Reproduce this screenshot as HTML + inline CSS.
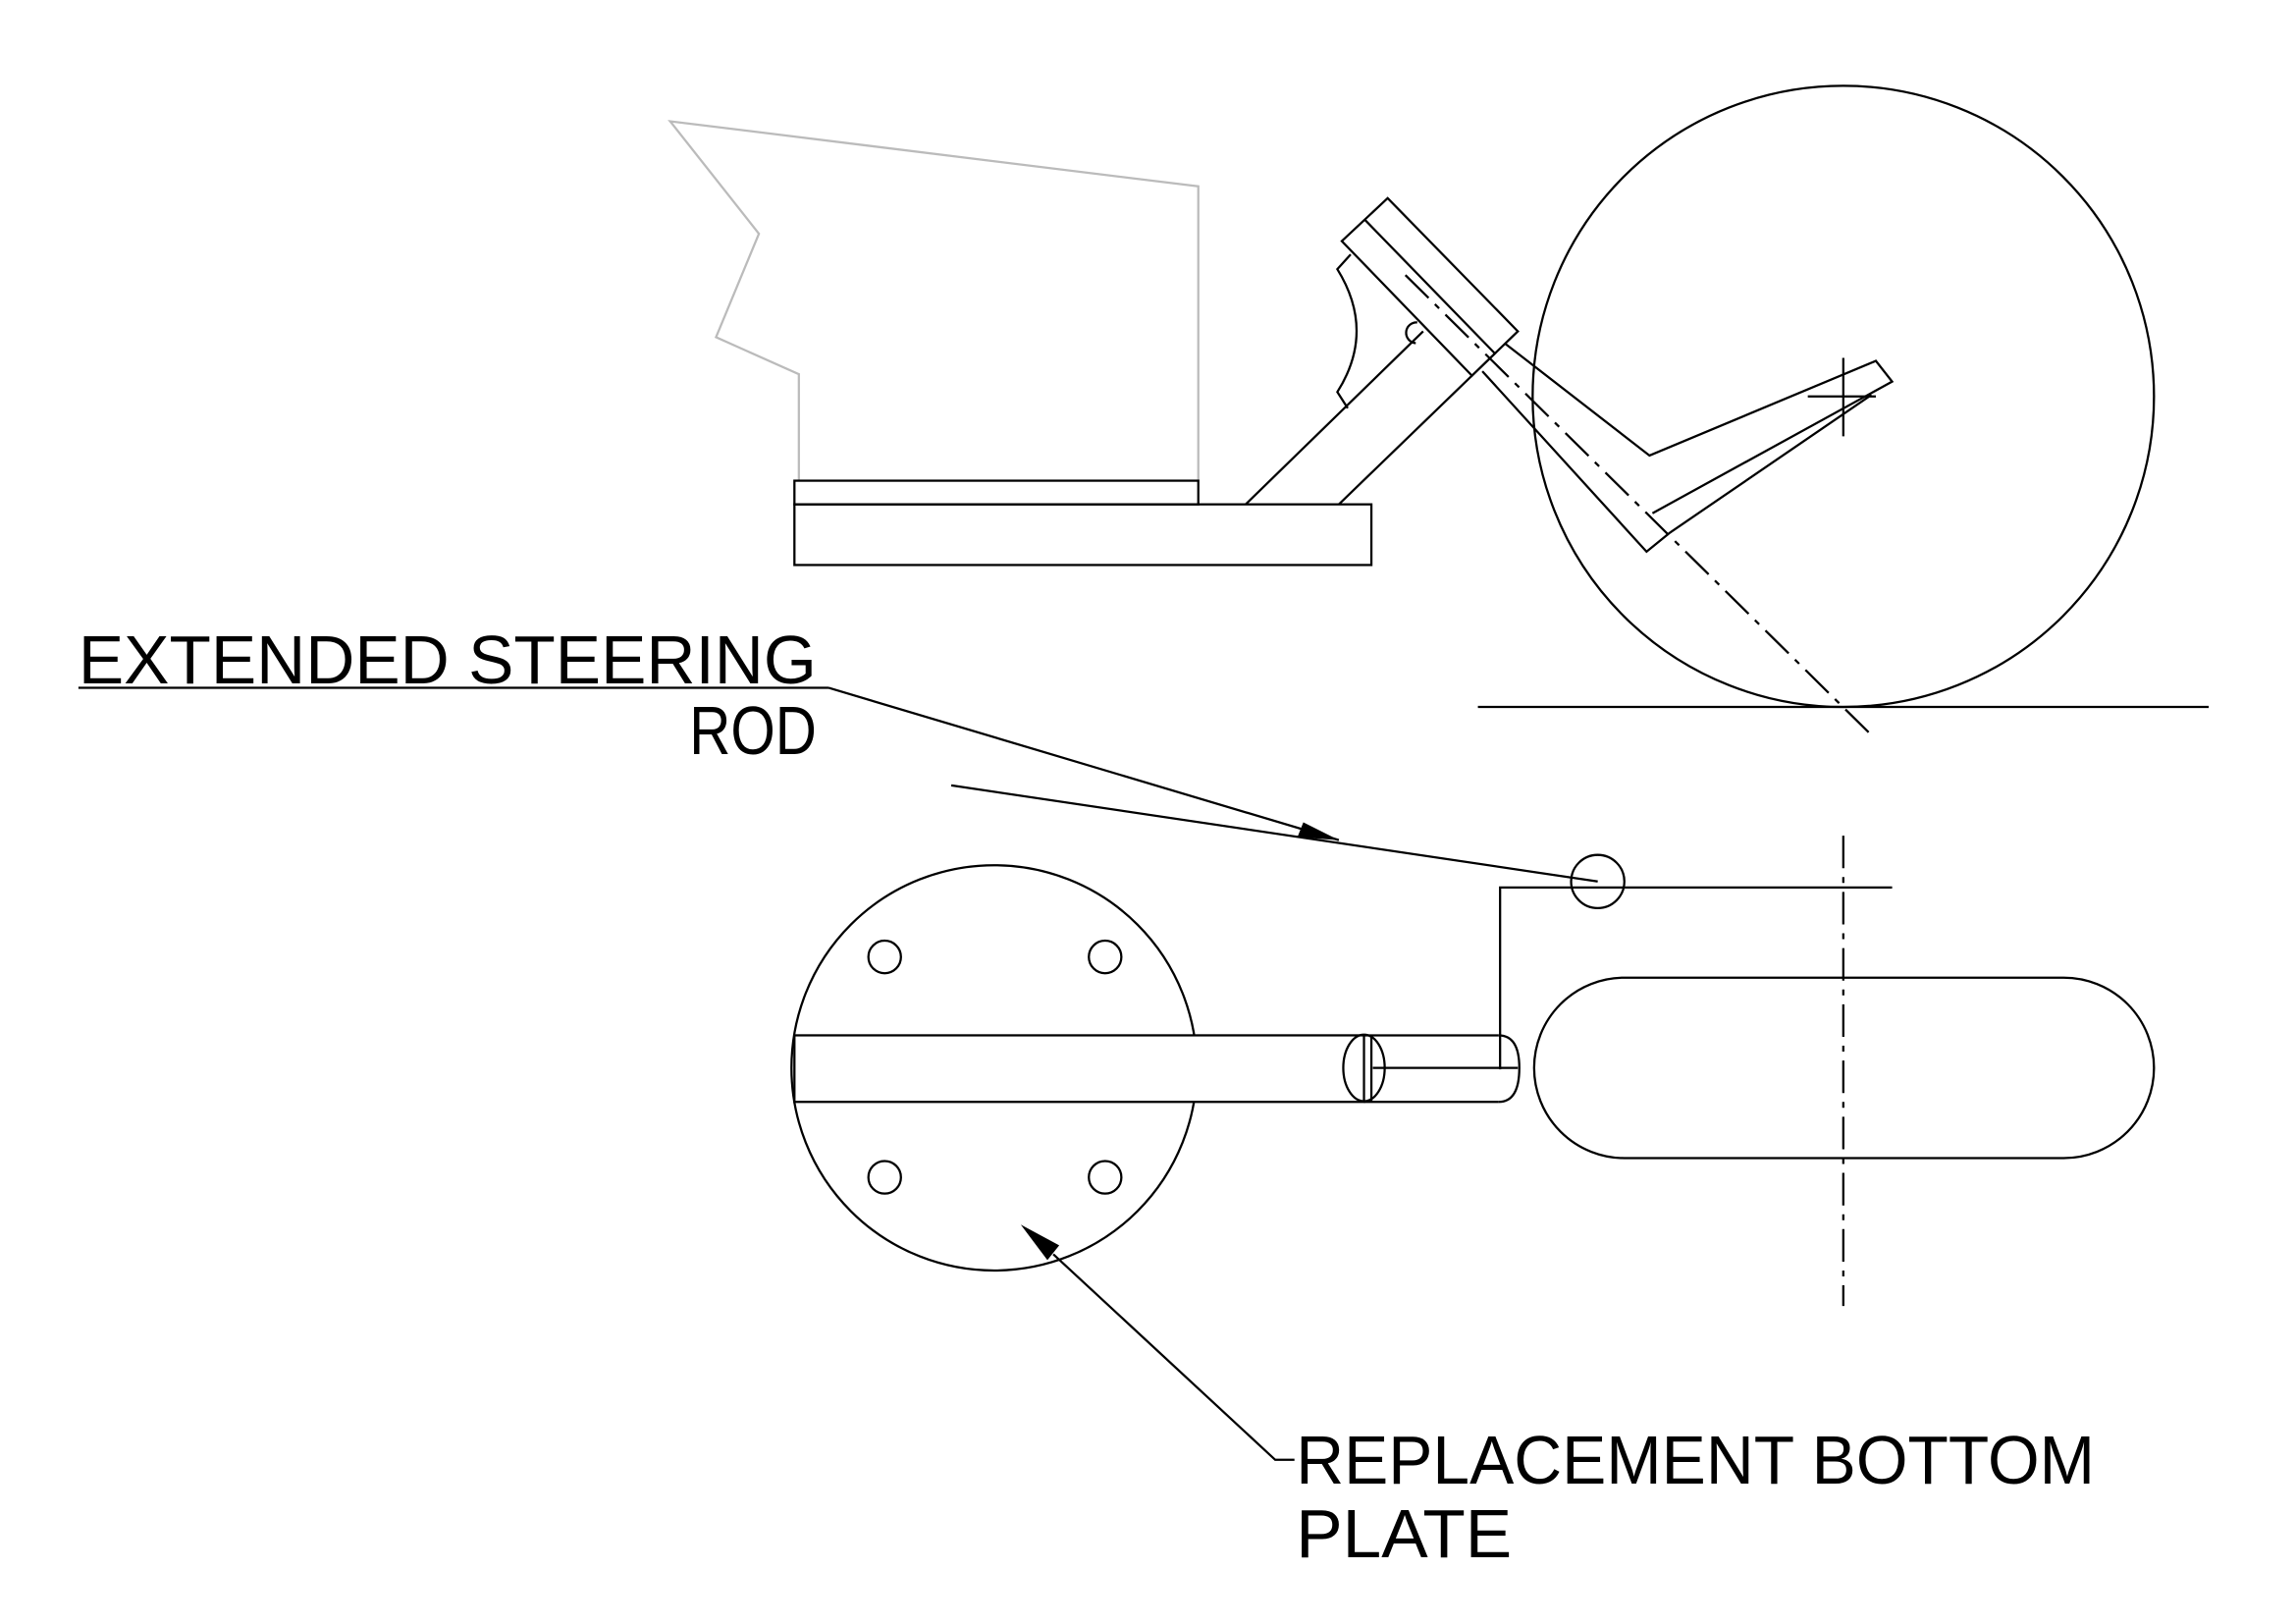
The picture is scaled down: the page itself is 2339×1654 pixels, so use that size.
<!DOCTYPE html>
<html><head><meta charset="utf-8"><style>
html,body{margin:0;padding:0;background:#fff;}
svg{display:block;}
text{font-family:"Liberation Sans",sans-serif;fill:#000;}
</style></head><body>
<svg width="2339" height="1654" viewBox="0 0 1552 1098" preserveAspectRatio="none" xmlns="http://www.w3.org/2000/svg">
<rect width="1552" height="1098" fill="#fff"/>
<g fill="none" stroke="#000" stroke-width="1.5">
<!-- grey outline -->
<polyline points="540,325 540,253 484,228 513,158 453,82 810,126 810,325" stroke="#bbb"/>
<!-- plates -->
<rect x="537" y="325" width="273" height="16"/>
<rect x="537" y="341" width="390" height="41"/>
<!-- struts -->
<line x1="842" y1="341" x2="962" y2="224"/>
<line x1="905" y1="341" x2="995" y2="254"/>
<!-- head -->
<polygon points="907,163 938,134 1026,224 995,254"/>
<line x1="922.5" y1="148.5" x2="1010.5" y2="239"/>
<!-- bracket -->
<path d="M913,172 L904,182 Q930,224 904,265 L911,276"/>
<path d="M958,218 A7,7 0 0 0 957,232"/>
<!-- kingpin strip and arm -->
<polyline points="1017,232 1115,308 1268,244 1279,258 1117,347"/>
<polyline points="1002,251 1113,373 1129,360"/>
<line x1="1265" y1="267" x2="1129" y2="360"/>
<line x1="950" y1="186" x2="1265" y2="497" stroke-dasharray="22,6,4,6"/>
<!-- wheel -->
<circle cx="1246" cy="268" r="210"/>
<line x1="1246" y1="242" x2="1246" y2="295"/>
<line x1="1222" y1="268" x2="1268" y2="268"/>
<line x1="999" y1="478" x2="1493" y2="478"/>
<!-- label 1 leader -->
<line x1="53" y1="465" x2="560" y2="465"/>
<line x1="560" y1="465" x2="905" y2="568"/>
<!-- steering rod -->
<line x1="643" y1="531" x2="1080" y2="596"/>
<circle cx="1080" cy="596" r="18"/>
<polyline points="1014,723 1014,600 1279,600"/>
<line x1="1246" y1="565" x2="1246" y2="883" stroke-dasharray="22,6,4,6"/>
<!-- bottom plate -->
<circle cx="672" cy="722" r="137" fill="#fff"/>
<circle cx="598" cy="647" r="11"/>
<circle cx="747" cy="647" r="11"/>
<circle cx="598" cy="796" r="11"/>
<circle cx="747" cy="796" r="11"/>
<rect x="537" y="700" width="385" height="45" fill="#fff"/>
<ellipse cx="922" cy="722" rx="14" ry="22.5"/>
<line x1="927" y1="700" x2="927" y2="745"/>
<line x1="922" y1="700" x2="1013" y2="700"/>
<line x1="922" y1="745" x2="1013" y2="745"/>
<line x1="928" y1="722" x2="1026" y2="722"/>
<path d="M1013,700 Q1027,700 1027,722 Q1027,745 1013,745"/>
<!-- tire top view -->
<rect x="1037" y="661" width="419" height="122" rx="61" ry="61"/>
<!-- label 2 leader -->
<polyline points="875,987 862,987 712,848"/>
</g>
<polygon points="905,568 877,566 881,556" fill="#000"/>
<polygon points="690,828 716,842 708,852" fill="#000"/>
<text x="53" y="462" font-size="46" textLength="499" lengthAdjust="spacingAndGlyphs">EXTENDED STEERING</text>
<text x="466" y="510" font-size="46" textLength="86" lengthAdjust="spacingAndGlyphs">ROD</text>
<text x="876" y="1003" font-size="46" textLength="540" lengthAdjust="spacingAndGlyphs">REPLACEMENT BOTTOM</text>
<text x="876" y="1053" font-size="46" textLength="146" lengthAdjust="spacingAndGlyphs">PLATE</text>
</svg>
</body></html>
